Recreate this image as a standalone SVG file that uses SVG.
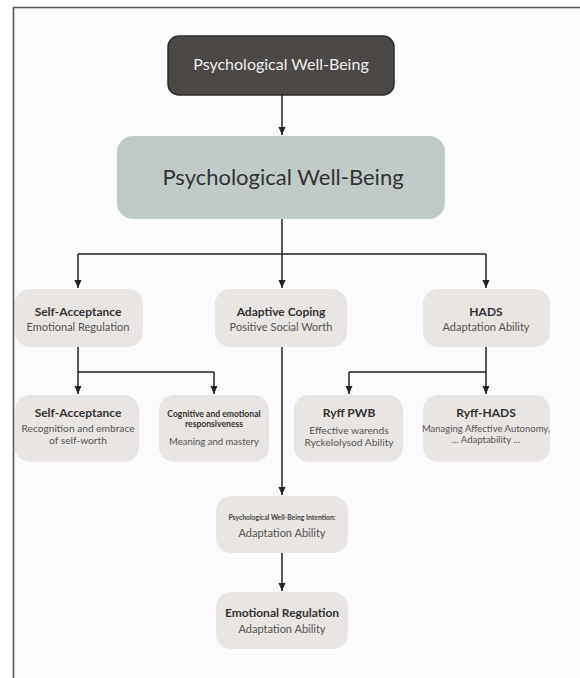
<svg xmlns="http://www.w3.org/2000/svg" width="580" height="678" viewBox="0 0 580 678">
<defs>
<marker id="a" markerUnits="userSpaceOnUse" markerWidth="8" markerHeight="8" refX="8" refY="4" orient="auto" viewBox="0 0 8 8">
<path d="M0,0.5 L8,4 L0,7.5 Z" fill="#222"/>
</marker>
</defs>
<style>
text{font-family:Lato,"Open Sans","Liberation Sans",sans-serif;text-anchor:middle}
.n{fill:#e9e5e2}
.t{font-size:12px;font-weight:700;fill:#333}
.s{font-size:11px;fill:#555}
.s2{font-size:10.2px;fill:#555}
.c path{fill:none;stroke:#222;stroke-width:1.5}
</style>
<rect x="0" y="0" width="580" height="678" fill="#ffffff"/>
<rect x="13" y="7" width="567" height="671" fill="#fbfafd"/>
<path d="M13.5,678 V7.5 H580" fill="none" stroke="#555" stroke-width="1.6"/>

<g id="top">
<rect x="168" y="36" width="226" height="59" rx="11" fill="#4b4846" stroke="#2e2c2b" stroke-width="1.5"/>
<text x="281" y="69.5" style="font-size:16px;fill:#eeeeee">Psychological Well-Being</text>
</g>
<g id="main">
<rect x="117" y="136" width="328" height="83" rx="16" fill="#c0cbc7"/>
<text x="283" y="184.5" style="font-size:22px;fill:#333">Psychological Well-Being</text>
</g>

<g id="n1">
<rect class="n" x="15" y="289" width="128" height="58" rx="15"/>
<text class="t" x="78" y="316">Self-Acceptance</text>
<text class="s" x="78" y="331">Emotional Regulation</text>
</g>
<g id="n2">
<rect class="n" x="215" y="289" width="132" height="58" rx="15"/>
<text class="t" x="281" y="316">Adaptive Coping</text>
<text class="s" x="281" y="331">Positive Social Worth</text>
</g>
<g id="n3">
<rect class="n" x="423" y="289" width="127" height="58" rx="15"/>
<text class="t" x="486" y="316">HADS</text>
<text class="s" x="486" y="331">Adaptation Ability</text>
</g>

<g id="n4">
<rect class="n" x="15" y="395" width="124" height="67" rx="15"/>
<text class="t" x="78" y="417">Self-Acceptance</text>
<text class="s2" x="78" y="432">Recognition and embrace</text>
<text class="s2" x="78" y="443.5">of self-worth</text>
</g>
<g id="n5">
<rect class="n" x="159" y="395" width="110" height="67" rx="15"/>
<text x="214" y="417" style="font-size:8.6px;font-weight:700;fill:#333">Cognitive and emotional</text>
<text x="214" y="427" style="font-size:8.6px;font-weight:700;fill:#333">responsiveness</text>
<text x="214" y="445" style="font-size:9.5px;fill:#555">Meaning and mastery</text>
</g>
<g id="n6">
<rect class="n" x="294" y="395" width="109" height="67" rx="15"/>
<text class="t" x="349" y="417">Ryff PWB</text>
<text class="s2" x="349" y="434">Effective warends</text>
<text class="s2" x="349" y="445.5">Ryckelolysod Ability</text>
</g>
<g id="n7">
<rect class="n" x="423" y="395" width="127" height="67" rx="15"/>
<text class="t" x="486" y="417">Ryff-HADS</text>
<text x="486" y="432" style="font-size:9.5px;fill:#555">Managing Affective Autonomy,</text>
<text x="486" y="443" style="font-size:9.5px;fill:#555">... Adaptability ...</text>
</g>

<g id="n8">
<rect class="n" x="216" y="496" width="132" height="57" rx="15"/>
<text x="282" y="519.5" style="font-size:6.8px;font-weight:700;fill:#444">Psychological Well-Being Intention:</text>
<text class="s" x="282" y="537">Adaptation Ability</text>
</g>
<g id="n9">
<rect class="n" x="216" y="592" width="132" height="57" rx="15"/>
<text class="t" x="282" y="617">Emotional Regulation</text>
<text class="s" x="282" y="633">Adaptation Ability</text>
</g>

<g id="connectors" class="c">
<path d="M282,95 V135" marker-end="url(#a)"/>
<path d="M282,219 V254"/>
<path d="M78,254 H486"/>
<path d="M78,254 V288" marker-end="url(#a)"/>
<path d="M282,254 V288" marker-end="url(#a)"/>
<path d="M486,254 V288" marker-end="url(#a)"/>
<path d="M78,347 V372 H214"/>
<path d="M78,372 V394" marker-end="url(#a)"/>
<path d="M214,372 V394" marker-end="url(#a)"/>
<path d="M486,347 V372 H349"/>
<path d="M486,372 V394" marker-end="url(#a)"/>
<path d="M349,372 V394" marker-end="url(#a)"/>
<path d="M282,347 V495" marker-end="url(#a)"/>
<path d="M282,553 V591" marker-end="url(#a)"/>
</g>
</svg>
